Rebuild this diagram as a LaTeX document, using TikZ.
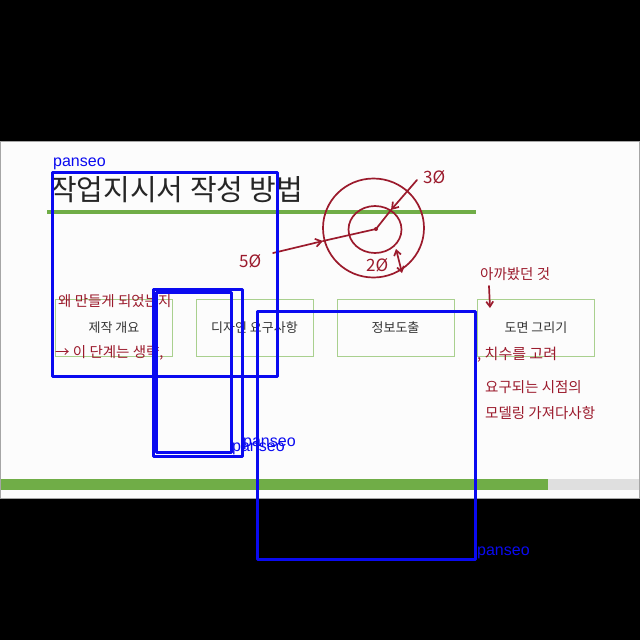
\documentclass[tikz,border=0pt]{standalone}
\usepackage{fontspec}
\setmainfont{Liberation Sans}
\newfontfamily\kr{Noto Sans CJK KR}
\usetikzlibrary{arrows.meta}
\definecolor{slidegreen}{HTML}{70AD47}
\definecolor{boxgreen}{HTML}{A9D08E}
\definecolor{pen}{HTML}{9B1A2C}
\definecolor{markblue}{HTML}{0A0AF0}
\definecolor{txt}{HTML}{333333}
\begin{document}
\begin{tikzpicture}[x=1pt,y=-1pt,
  stepbox/.style={draw=boxgreen, line width=1pt, minimum width=117pt, minimum height=57pt, inner sep=0pt, font=\kr\fontsize{13}{13}\selectfont, text=txt},
  hand/.style={text=pen, font=\kr\fontsize{14.5}{14.5}\selectfont, inner sep=0pt, anchor=west},
  digits/.style={hand, font=\kr\fontsize{17}{17}\selectfont},
  penline/.style={draw=pen, line width=1.7pt, line cap=round},
  mbox/.style={draw=markblue, line width=3pt, line join=round},
  mlabel/.style={text=markblue, font=\fontsize{16}{16}\selectfont, inner sep=0pt, anchor=base west}]
% background and slide
\fill[black] (0,0) rectangle (640,640);
\useasboundingbox (0,0) rectangle (640,640);
\filldraw[fill=white!99!black, draw=gray!70] (0.5,141) rectangle (639,498.5);
% title
\node[anchor=base west, font=\kr\fontsize{29}{29}\selectfont, text=black!85, inner sep=0pt] (title) at (50,200) {작업지시서 작성 방법};
\draw[slidegreen, line width=4pt] (47,212) -- (476,212);
% step boxes
\node[stepbox] (s1) at (114,328) {제작 개요};
\node[stepbox] (s2) at (254.5,328) {디자인 요구사항};
\node[stepbox] (s3) at (395.5,328) {정보도출};
\node[stepbox] (s4) at (536,328) {도면 그리기};
% progress bar
\fill[slidegreen] (0.5,479) rectangle (548,490);
\fill[gray!25] (548,479) rectangle (638.5,490);
% handwritten circles
\draw[penline] (373.5,228) ellipse [x radius=50.5, y radius=49.5];
\draw[penline] (375,229.5) ellipse [x radius=26.5, y radius=23.5];
\coordinate (ctr) at (376,229);
\fill[pen] (ctr) circle (2);
% 50 arrow
\node[digits] (t50) at (239,261) {5Ø};
\coordinate (c50) at (323,241);
\draw[penline, -{Straight Barb[length=6pt,width=8pt]}] (273,253) -- (c50);
\draw[penline] (c50) -- (ctr);
% 30 arrow
\node[digits] (t30) at (423,177) {3Ø};
\coordinate (c30a) at (417,180);
\coordinate (c30b) at (391,210);
\draw[penline, -{Straight Barb[length=6pt,width=8pt]}] (c30a) -- (c30b);
\draw[penline] (c30b) -- (ctr);
% 20 double arrow
\node[digits] (t20) at (366,265) {2Ø};
\coordinate (c20a) at (396,249);
\coordinate (c20b) at (402,273);
\draw[penline, {Straight Barb[length=5pt,width=7pt]}-{Straight Barb[length=5pt,width=7pt]}] (c20a) -- (c20b);
% handwritten notes
\node[hand] (n1) at (58,301) {왜 만들게 되었는지};
\node[hand] (n2) at (55,353) {→ 이 단계는 생략,};
\node[hand] (n3) at (480,274) {아까봤던 것};
\coordinate (a3) at (490,308);
\draw[penline, -{Straight Barb[length=5pt,width=7pt]}] (489,286) -- (a3);
\node[hand, font=\kr\fontsize{15}{15}\selectfont] (n4) at (477,355) {, 치수를 고려};
\node[hand] (n5) at (485,387) {요구되는 시점의};
\node[hand] (n6) at (485,413) {모델링 가져다사항};
% blue marking boxes
\draw[mbox] (52,172) rectangle (277,376);
\node[mlabel] (l1) at (53,166) {panseo};
\draw[mbox] (153,289) rectangle (242,456);
\draw[mbox] (156,292) rectangle (231,452);
\node[mlabel] (l2) at (243,446) {panseo};
\node[mlabel] (l3) at (232,451) {panseo};
\draw[mbox] (257,311) rectangle (475,559);
\node[mlabel] (l4) at (477,555) {panseo};
\end{tikzpicture}
\end{document}
